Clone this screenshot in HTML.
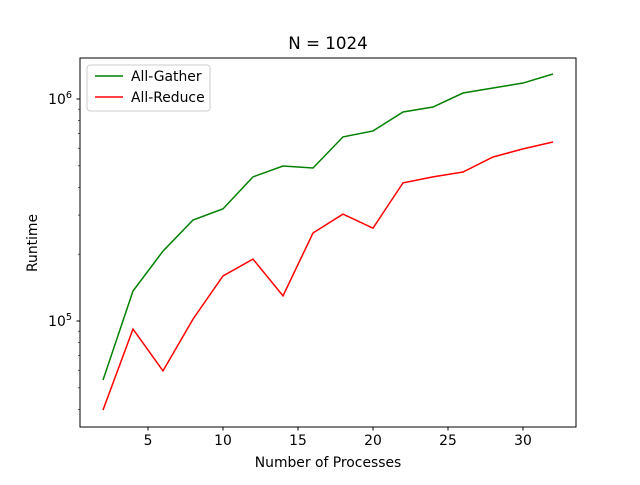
<!DOCTYPE html>
<html><head><meta charset="utf-8"><style>body{margin:0;background:#fff}svg{font-family:"DejaVu Sans","Liberation Sans",sans-serif}</style></head>
<body>
<svg id="chart" width="640" height="480" viewBox="0 0 640 480">
<rect width="640" height="480" fill="#fff"/>
<text x="328" y="49" font-size="16.7" text-anchor="middle">N = 1024</text>
<g id="axes"></g>
<g id="lines"></g>
<rect x="80" y="58" width="496" height="369" fill="none" stroke="#000" stroke-width="1"/>
<text x="328" y="467" font-size="13.9" text-anchor="middle">Number of Processes</text>
<text x="37" y="243" font-size="13.9" text-anchor="middle" transform="rotate(-90 37 243)">Runtime</text>
<g>
<rect x="87" y="65" width="123" height="46" rx="3" fill="#fff" fill-opacity="0.8" stroke="#ccc"/>
<line x1="95" y1="76" x2="123" y2="76" stroke="green" stroke-width="1.5"/>
<text x="131" y="81" font-size="13.9">All-Gather</text>
<line x1="95" y1="97" x2="123" y2="97" stroke="red" stroke-width="1.5"/>
<text x="131" y="102" font-size="13.9">All-Reduce</text>
</g>
</svg>
<script>
const processes=[2,4,6,8,10,12,14,16,18,20,22,24,26,28,30,32];
const allGather=[54200,136500,206500,285000,320000,446000,499000,489000,675000,718000,874000,920000,1064000,1121000,1180000,1296000];
const allReduce=[39700,92000,59600,102000,159500,190000,129800,249000,303000,262000,419000,446000,469000,548000,596000,640000];
const xTicks=[5,10,15,20,25,30];
const NS="http://www.w3.org/2000/svg";
function xs(v){return 73+15*v;}
function ys(v){return 99-(Math.log10(v)-6)*222;}
function mk(t,a,p){const e=document.createElementNS(NS,t);for(const k in a)e.setAttribute(k,a[k]);p.appendChild(e);return e;}
const ax=document.getElementById('axes');
for(const t of xTicks){
 const l=mk('line',{x1:xs(t),x2:xs(t),y1:427,y2:430.5,stroke:'#000'},ax);
 
 
 const tx=mk('text',{x:xs(t),y:445,'font-size':13.9,'text-anchor':'middle'},ax);tx.textContent=t;
 
 
}
for(let d=4;d<=6;d++){for(let m=1;m<=9;m++){
 const v=m*Math.pow(10,d);const y=ys(v);if(y<58||y>427)continue;
 const major=m===1;
 const l=mk('line',{x1:80,x2:major?76.5:78,y1:y,y2:y,stroke:'#000','stroke-width':major?1:0.6},ax);
 
 
 if(major){const tx=mk('text',{x:72,y:y+5,'font-size':13.9,'text-anchor':'end'},ax);
  tx.innerHTML='10<tspan font-size="9.7" dy="-6">'+d+'</tspan>';
  
  }
}}
const lg=document.getElementById('lines');
function line(vals,color,name){
 const p=mk('polyline',{points:processes.map((x,i)=>xs(x)+','+ys(vals[i])).join(' '),fill:'none',stroke:color,'stroke-width':1.5},lg);
 
 
}
line(allGather,'green','all-gather-line');
line(allReduce,'red','all-reduce-line');
</script>
</body></html>
